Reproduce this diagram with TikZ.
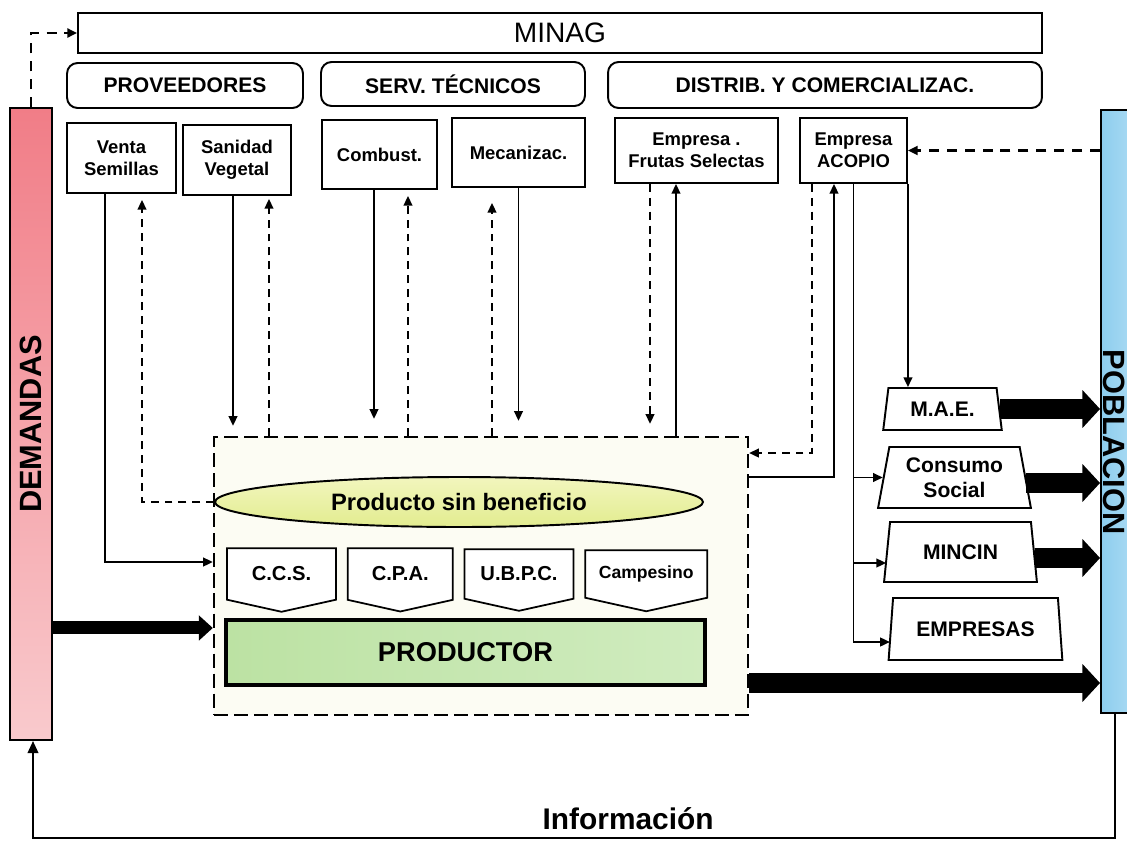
\documentclass[tikz,border=0pt]{standalone}
\usepackage{fontspec}
\setmainfont{Liberation Sans}
\usetikzlibrary{arrows.meta, positioning, shapes.geometric, shapes.symbols}
\definecolor{demtop}{HTML}{F17D87}
\definecolor{dembot}{HTML}{F9CACD}
\definecolor{pobleft}{HTML}{8DCDEE}
\definecolor{pobright}{HTML}{B9E2F6}
\definecolor{zonefill}{HTML}{FCFCF3}
\definecolor{sbtop}{HTML}{F2F6BE}
\definecolor{sbbot}{HTML}{E2EC8F}
\definecolor{prodleft}{HTML}{BCE2A3}
\definecolor{prodright}{HTML}{D0ECBF}
\tikzset{
box/.style={draw, line width=1.1pt, fill=white, inner sep=0pt, align=center, font=\fontsize{10.5}{12.5}\selectfont\bfseries}, % supplier boxes
headbox/.style={draw, line width=1.1pt, rounded corners=6pt, fill=white, inner sep=0pt, font=\fontsize{12}{14}\selectfont\bfseries}, % group headers
unitbox/.style={signal, signal to=south, signal pointer angle=155, draw, line width=1pt, fill=white, inner sep=0pt, minimum height=1.16cm, font=\fontsize{11.5}{13}\selectfont\bfseries}, % producer forms
outlet/.style={trapezium, trapezium stretches=true, trapezium angle=78, draw, line width=1.1pt, fill=white, inner sep=0pt, align=center, font=\fontsize{12}{14}\selectfont\bfseries}, % sales channels
flow/.style={line width=0.85pt, -{Triangle[length=5.5pt,width=5pt]}}, % material flow
feedback/.style={flow, dash pattern=on 4.5pt off 3.4pt}, % requests
request/.style={feedback, line width=1.4pt, dash pattern=on 5.7pt off 4.5pt},
bigflow/.style={line width=11pt, -{Triangle[length=10pt,width=21pt]}}, % product flow
}
\begin{document}
\begin{tikzpicture}[x=0.02cm, y=-0.02cm]
\useasboundingbox (0,0) rectangle (1127,849);
% top level
\node[draw, line width=1.1pt, fill=white, minimum width=19.28cm, minimum height=0.8cm, inner sep=0pt, font=\fontsize{16}{18}\selectfont] (minag) at (560,33) {MINAG};
\node[headbox, minimum width=4.72cm, minimum height=0.9cm] (prov) at (185,85.5) {PROVEEDORES};
\node[headbox, minimum width=5.28cm, minimum height=0.88cm] (serv) at (453,84) {SERV. TÉCNICOS};
\node[headbox, minimum width=8.68cm, minimum height=0.92cm] (dist) at (825,85) {DISTRIB. Y COMERCIALIZAC.};
% suppliers
\node[box, minimum width=2.18cm, minimum height=1.4cm] (venta) at (121.5,158) {Venta\\Semillas};
\node[box, minimum width=2.16cm, minimum height=1.4cm] (sanidad) at (237,160) {Sanidad\\Vegetal};
\node[box, minimum width=2.3cm, minimum height=1.38cm] (combust) at (379.5,154.5) {Combust.};
\node[box, minimum width=2.66cm, minimum height=1.38cm] (mecan) at (518.5,152.5) {Mecanizac.};
\node[box, minimum width=3.26cm, minimum height=1.3cm] (frutas) at (696.5,150.5) {Empresa .\\Frutas Selectas};
\node[box, minimum width=2.14cm, minimum height=1.3cm] (acopio) at (853.5,150.5) {Empresa\\ACOPIO};
% side bars
\node[draw, line width=1.1pt, top color=demtop, bottom color=dembot, minimum width=0.84cm, minimum height=12.64cm, inner sep=0pt] (dem) at (31,424) {};
\node[rotate=90, font=\fontsize{17.5}{20}\selectfont\bfseries] (demtxt) at (dem) {DEMANDAS};
\node[draw, line width=1.1pt, left color=pobleft, right color=pobright, minimum width=0.98cm, minimum height=12.06cm, inner sep=0pt] (pob) at (1125.5,411.5) {};
\node[rotate=-90, font=\fontsize{17.5}{20}\selectfont\bfseries] (pobtxt) at (1114.5,442) {POBLACION};
% producer zone
\node[draw, line width=1.4pt, dash pattern=on 8pt off 3.4pt, fill=zonefill, minimum width=10.68cm, minimum height=5.56cm] (zone) at (481,576) {};
\node[ellipse, draw, line width=1.1pt, top color=sbtop, bottom color=sbbot, minimum width=9.76cm, minimum height=1cm, inner sep=0pt, font=\fontsize{13.5}{15}\selectfont\bfseries] (sinben) at (459,502) {Producto sin beneficio};
\node[unitbox, minimum width=2.18cm] (ccs) at (281.5,574) {C.C.S.};
\node[unitbox, minimum width=2.1cm, right=0.2cm of ccs] (cpa) {C.P.A.};
\node[unitbox, minimum width=2.18cm, right=0.2cm of cpa] (ubpc) {U.B.P.C.};
\node[unitbox, minimum width=2.44cm, right=0.2cm of ubpc, font=\fontsize{10}{12}\selectfont\bfseries] (camp) {Campesino};
\node[draw, line width=2.3pt, left color=prodleft, right color=prodright, minimum width=9.58cm, minimum height=1.3cm, font=\fontsize{15.5}{18}\selectfont\bfseries] (prod) at (465.5,652.5) {PRODUCTOR};
% sales channels
\node[outlet, minimum width=2.38cm, minimum height=0.84cm] (mae) at (942.5,409) {M.A.E.};
\node[outlet, minimum width=3.06cm, minimum height=1.22cm] (consumo) at (954.5,477.5) {Consumo\\Social};
\node[outlet, minimum width=3.06cm, minimum height=1.2cm] (mincin) at (960.5,552) {MINCIN};
\node[outlet, minimum width=3.5cm, minimum height=1.24cm] (empresas) at (975.5,629) {EMPRESAS};
\coordinate (infoL) at (33,838);
% requests
\draw[request] (dem.north) |- (minag.west);
\draw[request] (pob.west |- acopio.east) -- (acopio.east);
% suppliers and producers
\draw[flow] ([xshift=-0.33cm]venta.south) |- ([yshift=0.28cm]zone.west);
\draw[feedback, shorten >=0.12cm] (sinben.west) -| ([xshift=0.41cm]venta.south);
\draw[flow, shorten >=0.2cm] ([xshift=-0.08cm]sanidad.south) -- ([xshift=-0.08cm]sanidad.south |- zone.north);
\draw[feedback, shorten >=0.06cm] ([xshift=0.64cm]sanidad.south |- zone.north) -- ([xshift=0.64cm]sanidad.south);
\draw[flow, shorten >=0.34cm] ([xshift=-0.11cm]combust.south) -- ([xshift=-0.11cm]combust.south |- zone.north);
\draw[feedback, shorten >=0.12cm] ([xshift=0.57cm]combust.south |- zone.north) -- ([xshift=0.57cm]combust.south);
\draw[feedback, shorten >=0.3cm] ([xshift=-0.53cm]mecan.south |- zone.north) -- ([xshift=-0.53cm]mecan.south);
\draw[flow, shorten >=0.3cm] (mecan.south) -- (mecan.south |- zone.north);
\draw[feedback, shorten >=0.24cm] ([xshift=-0.93cm]frutas.south) -- ([xshift=-0.93cm]frutas.south |- zone.north);
\draw[flow] ([xshift=-0.41cm]frutas.south |- zone.north) -- ([xshift=-0.41cm]frutas.south);
\draw[feedback] ([xshift=-0.83cm]acopio.south) |- ([yshift=2.46cm]zone.east);
\draw[flow] ([yshift=1.98cm]zone.east) -| ([xshift=-0.39cm]acopio.south);
% distribution
\draw[flow] (acopio.south east) -- (acopio.south east |- mae.north);
\draw[flow] (acopio.south) |- ([yshift=-0.26cm]empresas.west);
\draw[flow] (acopio.south |- consumo.west) -- (consumo.west);
\draw[flow] ([yshift=-0.22cm]acopio.south |- mincin.west) -- ([yshift=-0.22cm]mincin.west);
% product flows
\draw[bigflow, line width=7.4pt, -{Triangle[length=8pt,width=14pt]}] ([yshift=-1.04cm]zone.west -| dem.east) -- ([yshift=-1.04cm]zone.west);
\draw[bigflow] (mae.east) -- (mae.east -| pob.west);
\draw[bigflow] ([yshift=-0.11cm]consumo.east) -- ([yshift=-0.11cm]consumo.east -| pob.west);
\draw[bigflow] ([yshift=-0.12cm]mincin.east) -- ([yshift=-0.12cm]mincin.east -| pob.west);
\draw[bigflow] ([yshift=-2.14cm]zone.east) -- ([yshift=-2.14cm]zone.east -| pob.west);
% information
\draw[line width=1.4pt, -{Triangle[length=7pt,width=6pt]}] ([xshift=-0.21cm]pob.south) -- ([xshift=-0.21cm]pob.south |- infoL) -- node[above=3pt, inner sep=1pt, pos=0.45, font=\fontsize{17}{20}\selectfont\bfseries] (infotxt) {Información} (infoL) -- (infoL |- dem.south);
\end{tikzpicture}
\end{document}
